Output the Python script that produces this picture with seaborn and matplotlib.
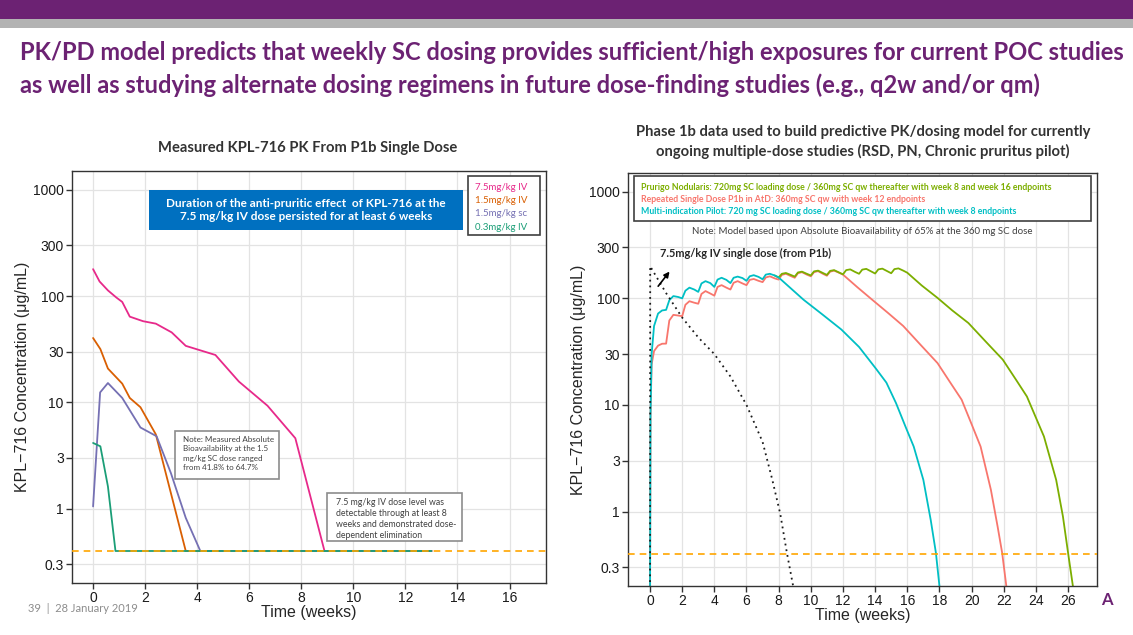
import matplotlib
matplotlib.use("Agg")
import matplotlib.pyplot as plt
from matplotlib.patches import Rectangle
from matplotlib.ticker import NullLocator
import pandas as pd
import seaborn as sns

W, H = 1133, 635

# ---- données mesurées P1b (dose unique), panneau gauche
iv75_weeks = [0, 0.25, 0.57, 0.89, 1.12, 1.41, 1.92, 2.41, 3.02, 3.56, 4.7, 5.6, 6.7, 7.77, 8.89, 13.0]
iv75_conc = [179, 137, 113, 97, 88, 64, 58, 55, 45.5, 34, 27.9, 15.7, 9.3, 4.6, 0.4, 0.4]
iv15_weeks = [0, 0.28, 0.57, 1.12, 1.41, 1.82, 2.41, 3.56, 13.0]
iv15_conc = [40.3, 31.7, 20.8, 15, 11, 9.0, 5.0, 0.4, 0.4]
sc15_weeks = [0, 0.27, 0.57, 1.12, 1.82, 2.44, 2.99, 3.56, 4.12, 13.0]
sc15_conc = [1.05, 12.4, 15.2, 11, 5.8, 4.8, 2.16, 0.82, 0.4, 0.4]
iv03_weeks = [0, 0.28, 0.57, 0.86, 13.0]
iv03_conc = [4.15, 3.86, 1.62, 0.4, 0.4]
left_labels = ["7.5mg/kg IV", "1.5mg/kg IV", "1.5mg/kg sc", "0.3mg/kg IV"]
left_colors = ["#E7298A", "#D95F02", "#7570B3", "#1B9E77"]

# ---- simulations du modèle PK, panneau droit
mip_weeks = [0, 0.03, 0.1, 0.25, 0.5, 0.75,
             1.0, 1.2, 1.45, 1.75, 2.0, 2.2, 2.45, 2.75,
             3.0, 3.2, 3.45, 3.75, 4.0, 4.2, 4.45, 4.75,
             5.0, 5.2, 5.45, 5.75, 6.0, 6.2, 6.45, 6.75,
             7.0, 7.2, 7.45, 7.75, 8.0,
             9.55, 10.7, 11.9, 13.0, 14.04, 14.7, 15.3, 15.9, 16.4, 17.0, 17.46, 17.78, 18.0]
mip_conc = [0.15, 8, 30, 55, 72, 77,
            78, 96, 105, 103, 100, 118, 126, 121,
            115, 138, 145, 139, 128, 150, 156, 149,
            139, 156, 160, 155, 146, 161, 165, 159,
            151, 167, 170, 164, 157,
            97, 71, 51, 35, 22, 16.2, 10.4, 6.2, 4.07, 1.98, 0.83, 0.41, 0.2]

atd_weeks = [0, 0.03, 0.1, 0.25, 0.5, 0.75,
             1.0, 1.2, 1.45, 1.75, 2.0, 2.2, 2.45, 2.75,
             3.0, 3.2, 3.45, 3.75, 4.0, 4.2, 4.45, 4.75,
             5.0, 5.2, 5.45, 5.75, 6.0, 6.2, 6.45, 6.75,
             7.0, 7.2, 7.45, 7.75, 8.0, 8.2, 8.45, 8.75,
             9.0, 9.2, 9.45, 9.75, 10.0, 10.2, 10.45, 10.75,
             11.0, 11.2, 11.45, 11.75, 12.0,
             12.9, 13.82, 14.8, 15.75, 16.8, 17.88, 18.7, 19.38, 20.0, 20.56, 21.2, 21.62, 21.9, 22.16]
atd_conc = [0.15, 8, 24, 32, 36, 37.5,
            37.6, 62, 70, 69, 68, 87, 94, 91,
            89, 110, 117, 111, 106, 128, 133, 126,
            121, 140, 145, 138, 133, 149, 152, 146,
            142, 157, 161, 154, 150, 166, 170, 162,
            156, 172, 176, 167, 161, 176, 180, 170,
            163, 178, 182, 174, 167,
            127, 97, 73, 55, 37, 24.7, 16, 11.2, 6.6, 4.07, 1.6, 0.72, 0.41, 0.2]

pn_weeks = [0, 0.03, 0.1, 0.25, 0.5, 0.75,
            1.0, 1.2, 1.45, 1.75, 2.0, 2.2, 2.45, 2.75,
            3.0, 3.2, 3.45, 3.75, 4.0, 4.2, 4.45, 4.75,
            5.0, 5.2, 5.45, 5.75, 6.0, 6.2, 6.45, 6.75,
            7.0, 7.2, 7.45, 7.75, 8.0, 8.2, 8.45, 8.75,
            9.0, 9.2, 9.45, 9.75, 10.0, 10.2, 10.45, 10.75,
            11.0, 11.2, 11.45, 11.75, 12.0, 12.2, 12.45, 12.75,
            13.0, 13.2, 13.45, 13.75, 14.0, 14.2, 14.45, 14.75,
            15.0, 15.2, 15.45, 15.75, 16.0,
            16.9, 17.88, 18.8, 19.8, 20.9, 21.94, 22.8, 23.44, 24.0, 24.5, 25.26, 25.68, 26.0, 26.3]
pn_conc = [0.15, 8, 30, 55, 72, 77,
           78, 96, 105, 103, 100, 118, 126, 121,
           115, 138, 145, 139, 128, 150, 156, 149,
           139, 156, 160, 155, 146, 161, 165, 159,
           151, 167, 170, 164, 157, 170, 173, 166,
           160, 175, 178, 170, 164, 179, 182, 173,
           166, 181, 184, 175, 168, 184, 187, 177,
           170, 186, 189, 179, 171, 187, 190, 180,
           172, 188, 191, 182, 174,
           132, 101, 77, 58.7, 39, 26.6, 16.9, 12, 7.6, 5.06, 1.98, 0.9, 0.41, 0.2]

p1b_iv_weeks = [0, 0.01, 0.5, 1.0, 2.0, 3.0, 4.0, 5.0, 6.0, 7.0, 7.6, 8.1, 8.5, 8.9]
p1b_iv_conc = [0.15, 200, 150, 112, 66, 43, 30, 18.5, 10, 4.5, 2.0, 0.95, 0.42, 0.2]

right_labels = [
    "Prurigo Nodularis: 720mg SC loading dose / 360mg SC qw thereafter with week 8 and week 16 endpoints",
    "Repeated Single Dose P1b in AtD: 360mg SC qw with week 12 endpoints",
    "Multi-indication Pilot: 720 mg SC loading dose / 360mg SC qw thereafter with week 8 endpoints",
]
right_colors = ["#7CAE00", "#F8766D", "#00BFC4"]

lloq = 0.4
y_ticks = [0.3, 1, 3, 10, 30, 100, 300, 1000]
y_ticklabels = ["0.3", "1", "3", "10", "30", "100", "300", "1000"]

PURPLE = "#6C2273"
TXT_FONT = ["Lato", "DejaVu Sans"]
AX_FONT = ["Liberation Sans", "DejaVu Sans"]

sns.set_theme(style="whitegrid", rc={
    "axes.edgecolor": "#333333",
    "axes.linewidth": 1.0,
    "grid.color": "#E3E3E3",
    "grid.linewidth": 0.9,
    "xtick.bottom": True,
    "ytick.left": True,
    "xtick.color": "#333333",
    "ytick.color": "#333333",
    "xtick.labelcolor": "#1A1A1A",
    "ytick.labelcolor": "#1A1A1A",
    "xtick.major.size": 4,
    "ytick.major.size": 4,
    "xtick.major.width": 1,
    "ytick.major.width": 1,
})
plt.rcParams["font.family"] = AX_FONT


def fx(px):
    return px / W


def fy(py):
    return 1 - py / H


def box(x0, y0, x1, y1, **kw):
    fig.add_artist(Rectangle((fx(x0), fy(y1)), (x1 - x0) / W, (y1 - y0) / H,
                             transform=fig.transFigure, **kw))


def style_axis(ax, xticks):
    ax.set_yscale("log")
    ax.set_yticks(y_ticks)
    ax.set_yticklabels(y_ticklabels)
    ax.yaxis.set_minor_locator(NullLocator())
    ax.set_xticks(xticks)
    ax.set_ylim(0.2, 1500)
    ax.tick_params(labelsize=10, pad=2)
    ax.axhline(lloq, color="#FFA500", ls=(0, (4, 3)), lw=1.2, zorder=3)
    ax.set_xlabel("Time (weeks)", fontsize=11.5, labelpad=0)
    ax.set_ylabel("KPL\u2212716 Concentration (\u03bcg/mL)", fontsize=11.5, labelpad=2)
    for s in ax.spines.values():
        s.set_visible(True)


fig = plt.figure(figsize=(W / 100, H / 100), dpi=100)

# bandeau
box(0, 0, W, 19, color=PURPLE, lw=0)
box(0, 19, W, 28, color="#B3B3B3", lw=0)
fig.text(fx(20), fy(52), "PK/PD model predicts that weekly SC dosing provides sufficient/high exposures for current POC studies",
         fontsize=17.1, fontweight="bold", color=PURPLE, family=TXT_FONT, va="center")
fig.text(fx(20), fy(85), "as well as studying alternate dosing regimens in future dose-finding studies (e.g., q2w and/or qm)",
         fontsize=17.1, fontweight="bold", color=PURPLE, family=TXT_FONT, va="center")

# ---- panneau gauche
axL = fig.add_axes([fx(72), fy(583), (546 - 72) / W, (583 - 171) / H])
left_df = pd.concat([
    pd.DataFrame({"week": w, "conc": c, "dose": lab})
    for w, c, lab in zip([iv75_weeks, iv15_weeks, sc15_weeks, iv03_weeks],
                         [iv75_conc, iv15_conc, sc15_conc, iv03_conc], left_labels)
])
sns.lineplot(data=left_df, x="week", y="conc", hue="dose", palette=dict(zip(left_labels, left_colors)),
             estimator=None, sort=False, legend=False, lw=1.3, ax=axL)
style_axis(axL, range(0, 17, 2))
axL.set_xlim(-0.81, 17.4)
fig.text(fx(308), fy(148), "Measured KPL-716 PK From P1b Single Dose", fontsize=10.6, fontweight="bold",
         family=TXT_FONT, color="#333333", ha="center", va="center")

# encadré bleu
box(149, 190, 463, 230, color="#0070C0", lw=0, zorder=5)
fig.text(fx(306), fy(210), "Duration of the anti-pruritic effect  of KPL-716 at the\n7.5 mg/kg IV dose persisted for at least 6 weeks",
         ha="center", va="center", color="white", fontsize=8.5, fontweight="bold", family=TXT_FONT,
         linespacing=1.3, zorder=6)

# légende gauche
box(468, 176, 540, 235, facecolor="white", edgecolor="#404040", lw=1.2, zorder=5)
for i, (lab, col) in enumerate(zip(left_labels, left_colors)):
    fig.text(fx(475), fy(187 + i * 13.5), lab, color=col, fontsize=7, family=TXT_FONT,
             va="center", zorder=6)

# notes
box(175, 431, 279, 479, facecolor="white", edgecolor="#8C8C8C", lw=1.2, zorder=5)
fig.text(fx(183), fy(436), "Note: Measured Absolute\nBioavailability at the 1.5\nmg/kg SC dose ranged\nfrom 41.8% to 64.7%",
         fontsize=5.8, color="#404040", family=TXT_FONT, va="top", linespacing=1.4, zorder=6)
box(327, 493, 462, 541, facecolor="white", edgecolor="#8C8C8C", lw=1.2, zorder=5)
fig.text(fx(336), fy(498), "7.5 mg/kg IV dose level was\ndetectable through at least 8\nweeks and demonstrated dose-\ndependent elimination",
         fontsize=6.3, color="#404040", family=TXT_FONT, va="top", linespacing=1.3, zorder=6)

# ---- panneau droit
axR = fig.add_axes([fx(628), fy(586), (1097 - 628) / W, (586 - 173) / H])
right_df = pd.concat([
    pd.DataFrame({"week": w, "conc": c, "study": lab})
    for w, c, lab in zip([atd_weeks, pn_weeks, mip_weeks],
                         [atd_conc, pn_conc, mip_conc], [right_labels[1], right_labels[0], right_labels[2]])
])
# PN et MIP sont identiques jusqu'à la semaine 8 : MIP est tracé par-dessus
right_df = right_df[(right_df["study"] != right_labels[0]) | (right_df["week"] >= 7.75)]
sns.lineplot(data=right_df, x="week", y="conc", hue="study", palette=dict(zip(right_labels, right_colors)),
             estimator=None, sort=False, legend=False, lw=1.3, ax=axR)
sns.lineplot(x=p1b_iv_weeks, y=p1b_iv_conc, color="#1A1A1A", ls=(0, (1, 2.2)), lw=1.3,
             estimator=None, sort=False, ax=axR)
style_axis(axR, range(0, 27, 2))
axR.set_xlim(-1.37, 27.8)
fig.text(fx(863), fy(142), "Phase 1b data used to build predictive PK/dosing model for currently\nongoing multiple-dose studies (RSD, PN, Chronic pruritus pilot)",
         fontsize=10.6, fontweight="bold", family=TXT_FONT, color="#333333", ha="center", va="center",
         linespacing=1.45)

axR.annotate("", xy=(1.32, 187), xytext=(0.40, 124),
             arrowprops=dict(arrowstyle="-|>", color="black", lw=1.2, mutation_scale=8))
axR.text(0.6, 262, "7.5mg/kg IV single dose (from P1b)", fontsize=7.9, fontweight="bold",
         family=TXT_FONT, color="#262626", va="center")
axR.text(13.2, 425, "Note: Model based upon Absolute Bioavailability of 65% at the 360 mg SC dose",
         fontsize=7.0, family=TXT_FONT, color="#404040", va="center", ha="center")

box(634, 176, 1091, 221, facecolor="white", edgecolor="#404040", lw=1.2, zorder=5)
for i, (lab, col) in enumerate(zip(right_labels, right_colors)):
    fig.text(fx(641), fy(187 + i * 12), lab, color=col, fontsize=6.3, fontweight="bold",
             family=TXT_FONT, va="center", zorder=6)

# pied de page
fig.text(fx(28), fy(609), "39  |  28 January 2019", fontsize=8, color="#8C8C8C", family=TXT_FONT, va="center")
fig.text(fx(1107), fy(600), "A", fontsize=12, color=PURPLE, family=TXT_FONT, fontweight="bold",
         ha="center", va="center")

fig.savefig("out.png", dpi=100)
